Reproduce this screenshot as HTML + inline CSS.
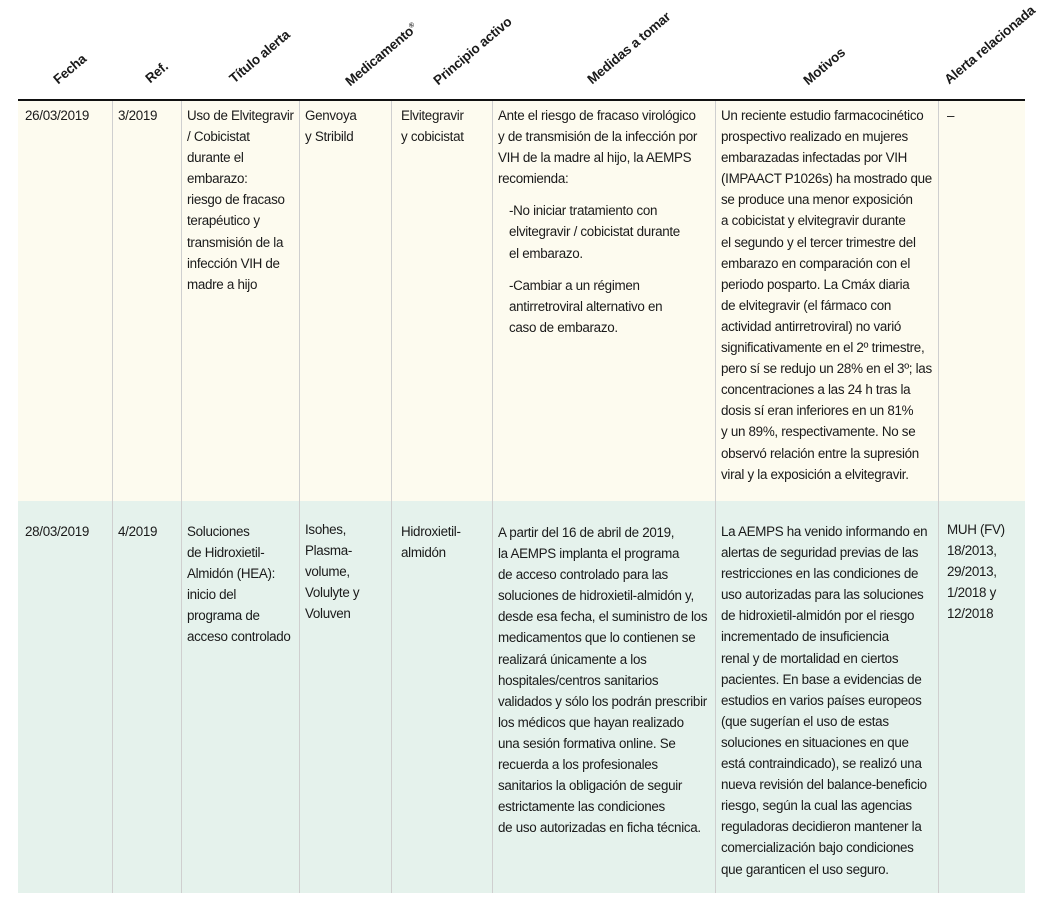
<!DOCTYPE html>
<html><head><meta charset="utf-8"><style>
body{margin:0;width:1063px;height:908px;background:#fff;position:relative;overflow:hidden;font-family:"Liberation Sans Narrow","Liberation Sans",sans-serif;color:#1a1a1a}
.row{position:absolute;left:18px;width:1007px}
.vl{position:absolute;width:1px;background:#cfcfcf}
.c{position:absolute;font-size:13.4px;line-height:21.1px;white-space:nowrap;letter-spacing:-0.3px}
.h{position:absolute;font-weight:bold;font-size:13.5px;white-space:nowrap;transform-origin:0 100%;transform:rotate(-40deg);letter-spacing:-0.2px}
.sub{padding-left:11px;margin-top:11px}
</style></head><body>
<div style="position:absolute;left:18px;top:99px;width:1007px;height:2.5px;background:#111"></div>
<div class="h" style="left:60px;top:72px">Fecha</div>
<div class="h" style="left:152px;top:71px">Ref.</div>
<div class="h" style="left:236px;top:71px">Título alerta</div>
<div class="h" style="left:352px;top:74px">Medicamento<sup style="font-size:7px">®</sup></div>
<div class="h" style="left:440px;top:73px">Principio activo</div>
<div class="h" style="left:594px;top:72px">Medidas a tomar</div>
<div class="h" style="left:810px;top:73px">Motivos</div>
<div class="h" style="left:951px;top:72px">Alerta relacionada</div>

<div class="row" style="top:101px;height:400px;background:#fdfbef"></div>
<div class="row" style="top:501px;height:392px;background:#e5f2ec"></div>
<div class="vl" style="left:112px;top:101px;height:792px"></div>
<div class="vl" style="left:181px;top:101px;height:792px"></div>
<div class="vl" style="left:299px;top:101px;height:792px"></div>
<div class="vl" style="left:391px;top:101px;height:792px"></div>
<div class="vl" style="left:492px;top:101px;height:792px"></div>
<div class="vl" style="left:715px;top:101px;height:792px"></div>
<div class="vl" style="left:938px;top:101px;height:792px"></div>

<div class="c" style="left:25px;top:105px">26/03/2019</div>
<div class="c" style="left:118px;top:105px">3/2019</div>
<div class="c" style="left:187px;top:105px">Uso de Elvitegravir<br>/ Cobicistat<br>durante el<br>embarazo:<br>riesgo de fracaso<br>terapéutico y<br>transmisión de la<br>infección VIH de<br>madre a hijo</div>
<div class="c" style="left:305px;top:105px">Genvoya<br>y Stribild</div>
<div class="c" style="left:401px;top:105px">Elvitegravir<br>y cobicistat</div>
<div class="c" style="left:498px;top:105px">Ante el riesgo de fracaso virológico<br>y de transmisión de la infección por<br>VIH de la madre al hijo, la AEMPS<br>recomienda:<div class="sub">-No iniciar tratamiento con<br>elvitegravir / cobicistat durante<br>el embarazo.</div><div class="sub">-Cambiar a un régimen<br>antirretroviral alternativo en<br>caso de embarazo.</div></div>
<div class="c" style="left:721px;top:105px">Un reciente estudio farmacocinético<br>prospectivo realizado en mujeres<br>embarazadas infectadas por VIH<br>(IMPAACT P1026s) ha mostrado que<br>se produce una menor exposición<br>a cobicistat y elvitegravir durante<br>el segundo y el tercer trimestre del<br>embarazo en comparación con el<br>periodo posparto. La Cmáx diaria<br>de elvitegravir (el fármaco con<br>actividad antirretroviral) no varió<br>significativamente en el 2º trimestre,<br>pero sí se redujo un 28% en el 3º; las<br>concentraciones a las 24 h tras la<br>dosis sí eran inferiores en un 81%<br>y un 89%, respectivamente. No se<br>observó relación entre la supresión<br>viral y la exposición a elvitegravir.</div>
<div class="c" style="left:947px;top:105px">–</div>

<div class="c" style="left:25px;top:521px">28/03/2019</div>
<div class="c" style="left:118px;top:521px">4/2019</div>
<div class="c" style="left:187px;top:521px">Soluciones<br>de Hidroxietil-<br>Almidón (HEA):<br>inicio del<br>programa de<br>acceso controlado</div>
<div class="c" style="left:305px;top:519px">Isohes,<br>Plasma-<br>volume,<br>Volulyte y<br>Voluven</div>
<div class="c" style="left:401px;top:521px">Hidroxietil-<br>almidón</div>
<div class="c" style="left:498px;top:522px">A partir del 16 de abril de 2019,<br>la AEMPS implanta el programa<br>de acceso controlado para las<br>soluciones de hidroxietil-almidón y,<br>desde esa fecha, el suministro de los<br>medicamentos que lo contienen se<br>realizará únicamente a los<br>hospitales/centros sanitarios<br>validados y sólo los podrán prescribir<br>los médicos que hayan realizado<br>una sesión formativa online. Se<br>recuerda a los profesionales<br>sanitarios la obligación de seguir<br>estrictamente las condiciones<br>de uso autorizadas en ficha técnica.</div>
<div class="c" style="left:721px;top:521px">La AEMPS ha venido informando en<br>alertas de seguridad previas de las<br>restricciones en las condiciones de<br>uso autorizadas para las soluciones<br>de hidroxietil-almidón por el riesgo<br>incrementado de insuficiencia<br>renal y de mortalidad en ciertos<br>pacientes. En base a evidencias de<br>estudios en varios países europeos<br>(que sugerían el uso de estas<br>soluciones en situaciones en que<br>está contraindicado), se realizó una<br>nueva revisión del balance-beneficio<br>riesgo, según la cual las agencias<br>reguladoras decidieron mantener la<br>comercialización bajo condiciones<br>que garanticen el uso seguro.</div>
<div class="c" style="left:947px;top:519px">MUH (FV)<br>18/2013,<br>29/2013,<br>1/2018 y<br>12/2018</div>
</body></html>
